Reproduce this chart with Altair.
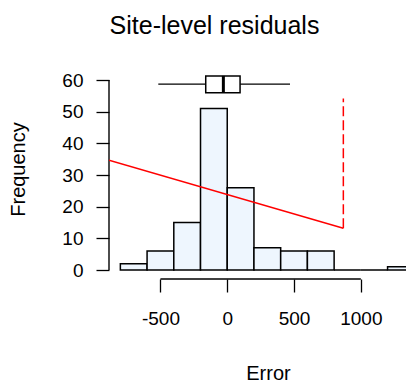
import altair as alt
import pandas as pd

# Histogram of site-level residuals (bin width 200)
bin_left = [-800, -600, -400, -200, 0, 200, 400, 600, 800, 1000, 1200]
bin_right = [-600, -400, -200, 0, 200, 400, 600, 800, 1000, 1200, 1400]
counts = [2, 6, 15, 51, 26, 7, 6, 6, 0, 0, 1]

# Horizontal boxplot summary drawn above the histogram
box_q1, box_median, box_q3 = -161, -29, 96
whisker_lo, whisker_hi = -516, 470
box_y_lo, box_y_mid, box_y_hi = 56.0, 58.7, 61.3

# Red reference line and dashed marker
trend_x = [-885, 869]
trend_y = [34.7, 13.2]
marker_x = 869
marker_y = [13.2, 54.2]

x_ticks = [-500, 0, 500, 1000]
y_ticks = [0, 10, 20, 30, 40, 50, 60]

FONT = "Liberation Sans"
PLOT_W, PLOT_H = 297, 214
X_DOMAIN = [-885, 1338]
Y_DOMAIN = [-2.84, 64.74]

xs = alt.Scale(domain=X_DOMAIN, nice=False, zero=False)
ys = alt.Scale(domain=Y_DOMAIN, nice=False, zero=False)

# Plain hyphen-minus for negative tick labels
PLAIN_LABEL = "'' + datum.value"

X_AXIS = alt.Axis(
    values=x_ticks, labelExpr=PLAIN_LABEL, title="Error", grid=False, domain=False,
    tickSize=13, tickWidth=1.3, tickColor="black",
    labelFontSize=19, labelFont=FONT, labelColor="black", labelPadding=17,
    titleFontSize=20, titleFont=FONT, titleFontWeight="normal", titleColor="black",
    titleX=159, titleY=100, titleBaseline="alphabetic", titleAlign="center",
    labelFlush=False, labelOverlap=False)

Y_AXIS = alt.Axis(
    values=y_ticks, labelExpr=PLAIN_LABEL, title="Frequency", grid=False, domain=False,
    tickSize=13, tickWidth=1.3, tickColor="black",
    labelFontSize=19, labelFont=FONT, labelColor="black", labelPadding=13,
    labelAngle=0, labelBaseline="middle",
    titleFontSize=20, titleFont=FONT, titleFontWeight="normal", titleColor="black",
    titleAngle=270, titleX=-85, titleY=104, titleBaseline="alphabetic",
    titleAlign="center", labelFlush=False, labelOverlap=False)


def xq(field):
    return alt.X(field, type="quantitative", scale=xs, axis=X_AXIS, title="Error")


def yq(field):
    return alt.Y(field, type="quantitative", scale=ys, axis=Y_AXIS, title="Frequency")


hist = pd.DataFrame({"lo": bin_left, "hi": bin_right, "n": counts})

bars = alt.Chart(hist).mark_rect(
    fill="#EEF6FE", stroke="black", strokeWidth=1.5, clip=True
).encode(x=xq("lo"), x2="hi", y=yq("n"), y2=alt.datum(0))

# Axis lines spanning only the tick range
x_axis_line = alt.Chart(pd.DataFrame({"a": [x_ticks[0]], "b": [x_ticks[-1]]})).mark_rule(
    color="black", strokeWidth=1.4
).encode(x=xq("a"), x2="b", y=alt.value(PLOT_H))

y_axis_line = alt.Chart(pd.DataFrame({"a": [y_ticks[0]], "b": [y_ticks[-1]]})).mark_rule(
    color="black", strokeWidth=1.4
).encode(y=yq("a"), y2="b", x=alt.value(0))

# Boxplot pieces
whiskers = alt.Chart(pd.DataFrame({
    "a": [whisker_lo, box_q3], "b": [box_q1, whisker_hi], "y": [box_y_mid, box_y_mid]
})).mark_rule(color="black", strokeWidth=1.4).encode(
    x=xq("a"), x2="b", y=yq("y"))

box = alt.Chart(pd.DataFrame({
    "a": [box_q1], "b": [box_q3], "lo": [box_y_lo], "hi": [box_y_hi]
})).mark_rect(fill="white", stroke="black", strokeWidth=1.5).encode(
    x=xq("a"), x2="b", y=yq("lo"), y2="hi")

median = alt.Chart(pd.DataFrame({
    "x": [box_median], "lo": [box_y_lo], "hi": [box_y_hi]
})).mark_rule(color="black", strokeWidth=3).encode(
    x=xq("x"), y=yq("lo"), y2="hi")

trend = alt.Chart(pd.DataFrame({"x": trend_x, "y": trend_y})).mark_line(
    color="#FF0000", strokeWidth=1.5, clip=True
).encode(x=xq("x"), y=yq("y"))

marker = alt.Chart(pd.DataFrame({
    "x": [marker_x], "lo": [marker_y[0]], "hi": [marker_y[1]]
})).mark_rule(color="#FF0000", strokeWidth=1.5, strokeDash=[10, 4]).encode(
    x=xq("x"), y=yq("lo"), y2="hi")

chart = alt.layer(
    bars, x_axis_line, y_axis_line, whiskers, box, median, trend, marker
).properties(
    width=PLOT_W, height=PLOT_H,
    title=alt.TitleParams(
        "Site-level residuals", fontSize=25, font=FONT, fontWeight="normal",
        color="black", anchor="middle", dx=-43, offset=6, baseline="alphabetic"),
    autosize=alt.AutoSizeParams(type="none"),
    padding={"left": 109, "top": 65, "right": 0, "bottom": 106},
    background="white",
).configure_view(stroke=None)

chart.save("out.html", embed_options={"renderer": "svg", "actions": False})
